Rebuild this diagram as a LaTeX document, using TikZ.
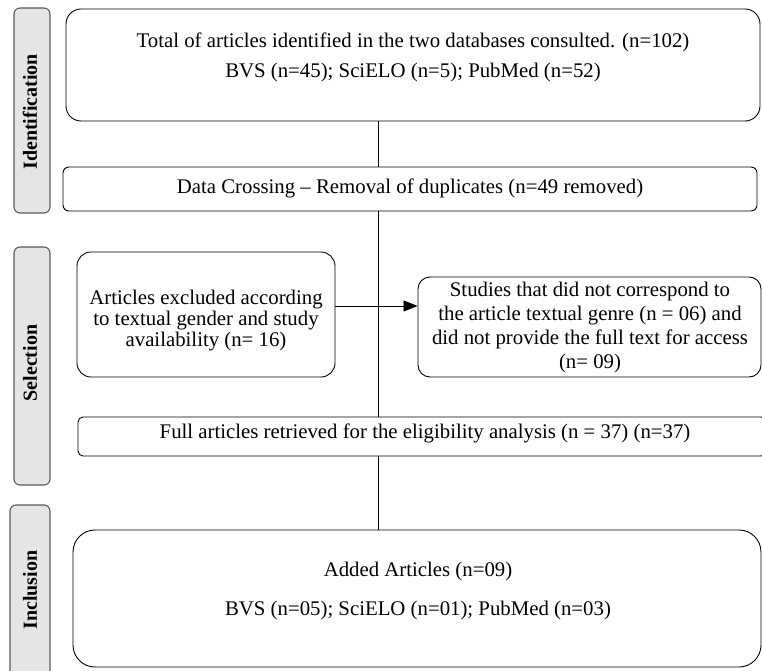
\documentclass[tikz,border=0pt]{standalone}
\usepackage{fontspec}
\setmainfont{Liberation Serif}
\usetikzlibrary{arrows.meta}
\begin{document}
\begin{tikzpicture}[x=1pt,y=-1pt,
  boxline/.style={draw=black,line width=0.9pt,inner sep=0pt},
  txt/.style={align=center,inner sep=0pt,font=\fontsize{20.8}{24}\selectfont},
  phase/.style={draw=black!65,fill=black!10,line width=1.1pt,rounded corners=6pt},
  phasetxt/.style={rotate=90,inner sep=0pt,font=\fontsize{20}{22}\selectfont\bfseries},
  conn/.style={draw=black,line width=0.8pt}]
\useasboundingbox (0,0) rectangle (762,671);
% phase labels
\draw[phase] (14,8) rectangle (50,213);
\node[phasetxt] (l1) at (30,112) {Identification};
\draw[phase] (14,247) rectangle (50,485);
\node[phasetxt] (l2) at (30,363) {Selection};
\draw[phase] (10,505) rectangle (50,680);
\node[phasetxt] (l3) at (30,590) {Inclusion};
% boxes
\node[boxline,rounded corners=15pt,minimum width=694pt,minimum height=112pt] (b1) at (413,65) {};
\node[txt,font=\fontsize{20.8}{30}\selectfont] (t1) at (413,57) {Total of articles identified in the two databases consulted. (n=102)\\BVS (n=45); SciELO (n=5); PubMed (n=52)};
\node[boxline,rounded corners=6pt,minimum width=694pt,minimum height=44pt] (b2) at (410,189) {};
\node[txt] (t2) at (410,188) {Data Crossing -- Removal of duplicates (n=49 removed)};
\node[boxline,rounded corners=14pt,minimum width=258pt,minimum height=125pt] (b3) at (206,314.5) {};
\node[txt,font=\fontsize{20.8}{20.6}\selectfont] (t3) at (206,320.5) {Articles excluded according\\to textual gender and study\\availability (n= 16)};
\node[boxline,rounded corners=12pt,minimum width=343pt,minimum height=100pt] (b4) at (589.5,327) {};
\node[txt,font=\fontsize{20.8}{23.9}\selectfont] (t4) at (590,327.5) {Studies that did not correspond to\\the article textual genre (n = 06) and\\did not provide the full text for access\\(n= 09)};
\node[boxline,rounded corners=5pt,minimum width=688pt,minimum height=39pt] (b5) at (422,436.5) {};
\node[txt] (t5) at (425,433) {Full articles retrieved for the eligibility analysis (n = 37) (n=37)};
\node[boxline,rounded corners=22pt,minimum width=688pt,minimum height=137pt] (b6) at (417,598.5) {};
\node[txt,font=\fontsize{20.8}{39}\selectfont] (t6) at (418,591) {Added Articles (n=09)\\BVS (n=05); SciELO (n=01); PubMed (n=03)};
% connectors
\coordinate (vx) at (378,0);
\coordinate (ay) at (0,306);
\draw[conn] (b1.south -| vx) -- (b2.north -| vx);
\draw[conn] (b2.south -| vx) -- (b5.north -| vx);
\draw[conn] (b5.south -| vx) -- (b6.north -| vx);
\draw[conn,-{Triangle[length=14pt,width=11pt]}] (b3.east |- ay) -- (b4.west |- ay);
\end{tikzpicture}
\end{document}
